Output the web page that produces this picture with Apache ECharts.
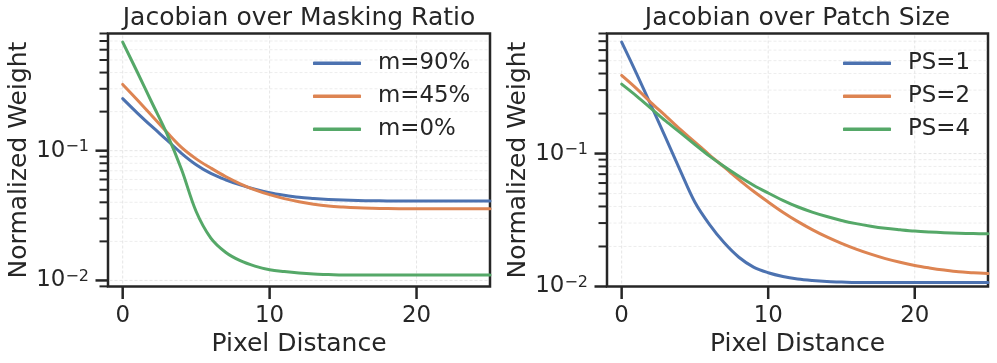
<!DOCTYPE html>
<html><head><meta charset="utf-8">
<script src="https://cdn.jsdelivr.net/npm/echarts@6/dist/echarts.min.js"></script>
<style>html,body{margin:0;padding:0;background:#fff}#c{width:997px;height:363px}</style>
</head><body><div id="c"></div>
<script>
// ---------- data ----------
const pixelDistance = [0,1,2,3,4,5,6,7,8,9,10,11,12,13,14,15,16,17,18,19,20,21,22,23,24,25];

const maskingLabels = ['m=90%', 'm=45%', 'm=0%'];
const m90 = [0.252,0.195,0.153,0.121,0.0955,0.078,0.0668,0.0597,0.0545,0.0505,0.0474,0.0453,0.0437,0.0428,0.0421,0.0416,0.0413,0.0411,0.041,0.0409,0.0409,0.0409,0.0409,0.0409,0.0409,0.0409];
const m45 = [0.324,0.246,0.185,0.139,0.106,0.0865,0.0735,0.0632,0.0556,0.0499,0.0458,0.0427,0.0404,0.0387,0.0375,0.0368,0.0363,0.036,0.0358,0.0357,0.0357,0.0357,0.0357,0.0357,0.0357,0.0357];
const m0  = [0.686,0.402,0.233,0.136,0.072,0.034,0.0212,0.0165,0.0142,0.0129,0.0121,0.0117,0.0114,0.0112,0.0111,0.011,0.011,0.011,0.011,0.011,0.011,0.011,0.011,0.011,0.011,0.011];

const patchLabels = ['PS=1', 'PS=2', 'PS=4'];
const ps1 = [0.689,0.403,0.231,0.132,0.0745,0.043,0.0292,0.0213,0.0166,0.014,0.0127,0.0119,0.0114,0.0111,0.0109,0.0108,0.0107,0.0107,0.0107,0.0107,0.0107,0.0107,0.0107,0.0107,0.0107,0.0107];
const ps2 = [0.387,0.309,0.242,0.192,0.152,0.122,0.0975,0.079,0.0637,0.052,0.0432,0.0362,0.0309,0.0268,0.0236,0.0211,0.0191,0.0175,0.0162,0.0152,0.0144,0.0138,0.0133,0.0129,0.0127,0.0125];
const ps4 = [0.333,0.272,0.219,0.176,0.1437,0.117,0.0957,0.0799,0.0675,0.0578,0.0505,0.0445,0.0398,0.0363,0.0336,0.0314,0.0297,0.0284,0.0274,0.0267,0.0261,0.0257,0.0254,0.0252,0.025,0.0249];

const xTickValues = [0, 10, 20];
const yMajorTicks = [0.01, 0.1];
const yMinorLeft  = [0.009,0.02,0.03,0.04,0.05,0.06,0.07,0.08,0.09,0.2,0.3,0.4,0.5,0.6,0.7,0.8];
const yMinorRight = [0.02,0.03,0.04,0.05,0.06,0.07,0.08,0.09,0.2,0.3,0.4,0.5,0.6,0.7,0.8];
const titles = ['Jacobian over Masking Ratio', 'Jacobian over Patch Size'];

// ---------- style ----------
const FONT = 'DejaVu Sans';
const INK = '#262626';
const COLORS = ['#4C72B0', '#DD8452', '#55A868'];
const X_MIN = -1, X_MAX = 25;
const Y_RANGE = [[0.00898, 0.8], [0.01, 0.8]];

const chart = echarts.init(document.getElementById('c'), null, {renderer: 'canvas'});

function pairs(ys) { return pixelDistance.map((x, i) => [x, ys[i]]); }

function lineSeries(name, ys, idx, color) {
  return {
    type: 'line', name, xAxisIndex: idx, yAxisIndex: idx,
    data: pairs(ys), showSymbol: false, smooth: 0.35, z: 3,
    lineStyle: {color, width: 3, cap: 'round', join: 'round'},
    itemStyle: {color}
  };
}

function deco(gi, minor) {
  const ymin = Y_RANGE[gi][0];
  const data = [];
  yMajorTicks.forEach(v => data.push([X_MIN, v, 0]));
  minor.forEach(v => data.push([X_MIN, v, 1]));
  xTickValues.forEach(v => data.push([v, ymin, 2]));
  return {
    type: 'custom', xAxisIndex: gi, yAxisIndex: gi, z: 1, silent: true, clip: false,
    encode: {x: 0, y: 1}, data,
    renderItem(params, api) {
      const cs = params.coordSys;
      const kind = api.value(2);
      const p = api.coord([api.value(0), api.value(1)]);
      const gs = {stroke: kind === 1 ? '#e9e9e9' : '#dedede', lineWidth: 0.8, lineDash: [3, 2]};
      const children = [];
      if (kind === 2) {
        children.push({type: 'line', shape: {x1: p[0], y1: cs.y + 2, x2: p[0], y2: cs.y + cs.height - 2}, style: gs});
        children.push({type: 'line', shape: {x1: p[0], y1: cs.y + cs.height, x2: p[0], y2: cs.y + cs.height + 12.5}, style: {stroke: INK, lineWidth: 2.5}});
        return {type: 'group', children};
      }
      const len = kind === 0 ? 12.5 : 8.5;
      const nearEdge = Math.abs(p[1] - cs.y) < 2.5 || Math.abs(p[1] - (cs.y + cs.height)) < 2.5;
      if (!nearEdge) {
        children.push({type: 'line', shape: {x1: cs.x + 1.5, y1: p[1], x2: cs.x + cs.width - 1.5, y2: p[1]}, style: gs});
      }
      children.push({type: 'line', shape: {x1: cs.x - len, y1: p[1], x2: cs.x, y2: p[1]}, style: {stroke: INK, lineWidth: kind === 0 ? 2.5 : 2}});
      return {type: 'group', children};
    }
  };
}

function xAxis(gi) {
  return {
    gridIndex: gi, type: 'value', min: X_MIN, max: X_MAX,
    axisLine: {show: false}, axisTick: {show: false}, splitLine: {show: false},
    axisLabel: {customValues: xTickValues, formatter: v => (xTickValues.indexOf(v) >= 0 ? String(v) : ''),
      fontSize: 22.9, color: INK, fontFamily: FONT, margin: 18},
    name: 'Pixel Distance', nameLocation: 'middle', nameGap: 43,
    nameTextStyle: {fontSize: 25, color: INK, fontFamily: FONT}
  };
}

function yAxis(gi) {
  return {
    gridIndex: gi, type: 'log', logBase: 10, min: Y_RANGE[gi][0], max: Y_RANGE[gi][1],
    axisLine: {show: false}, axisTick: {show: false}, splitLine: {show: false}, minorTick: {show: false},
    axisLabel: {
      margin: 19, color: INK, fontFamily: FONT,
      formatter: v => {
        const e = Math.log10(v);
        if (Math.abs(e - Math.round(e)) > 1e-6) return '';
        const r = Math.round(e);
        return '{b|10}{s|' + (r < 0 ? '\u2212' + (-r) : r) + '}';
      },
      rich: {
        b: {fontSize: 22.9, lineHeight: 23, color: INK, fontFamily: FONT},
        s: {fontSize: 16, lineHeight: 16, verticalAlign: 'top', color: INK, fontFamily: FONT}
      }
    },
    name: 'Normalized Weight', nameLocation: 'middle', nameGap: 76,
    nameTextStyle: {fontSize: 25, color: INK, fontFamily: FONT}
  };
}

function legend(gi, names, left) {
  return {
    data: names, orient: 'vertical', left, top: 50.3, padding: 0,
    icon: 'roundRect', itemWidth: 48, itemHeight: 3.5, itemGap: 7,
    textStyle: {fontSize: 22.9, color: INK, fontFamily: FONT, lineHeight: 26, padding: [0, 0, 0, 12]},
    selectedMode: false
  };
}

const gridBase = {show: true, borderWidth: 2.5, borderColor: INK, backgroundColor: 'transparent', top: 33.5, height: 253};

chart.setOption({
  animation: false,
  backgroundColor: '#ffffff',
  textStyle: {fontFamily: FONT},
  graphic: [
    {type: 'text', x: 299, y: 18, style: {text: titles[0], fontSize: 25, fontFamily: FONT, fill: INK, align: 'center', verticalAlign: 'middle'}},
    {type: 'text', x: 797.5, y: 18, style: {text: titles[1], fontSize: 25, fontFamily: FONT, fill: INK, align: 'center', verticalAlign: 'middle'}}
  ],
  grid: [
    Object.assign({left: 108, width: 382}, gridBase),
    Object.assign({left: 607, width: 381}, gridBase)
  ],
  xAxis: [xAxis(0), xAxis(1)],
  yAxis: [yAxis(0), yAxis(1)],
  legend: [legend(0, maskingLabels, 313), legend(1, patchLabels, 843)],
  series: [
    deco(0, yMinorLeft),
    deco(1, yMinorRight),
    lineSeries(maskingLabels[0], m90, 0, COLORS[0]),
    lineSeries(maskingLabels[1], m45, 0, COLORS[1]),
    lineSeries(maskingLabels[2], m0, 0, COLORS[2]),
    lineSeries(patchLabels[0], ps1, 1, COLORS[0]),
    lineSeries(patchLabels[1], ps2, 1, COLORS[1]),
    lineSeries(patchLabels[2], ps4, 1, COLORS[2])
  ]
});
</script>
</body></html>
